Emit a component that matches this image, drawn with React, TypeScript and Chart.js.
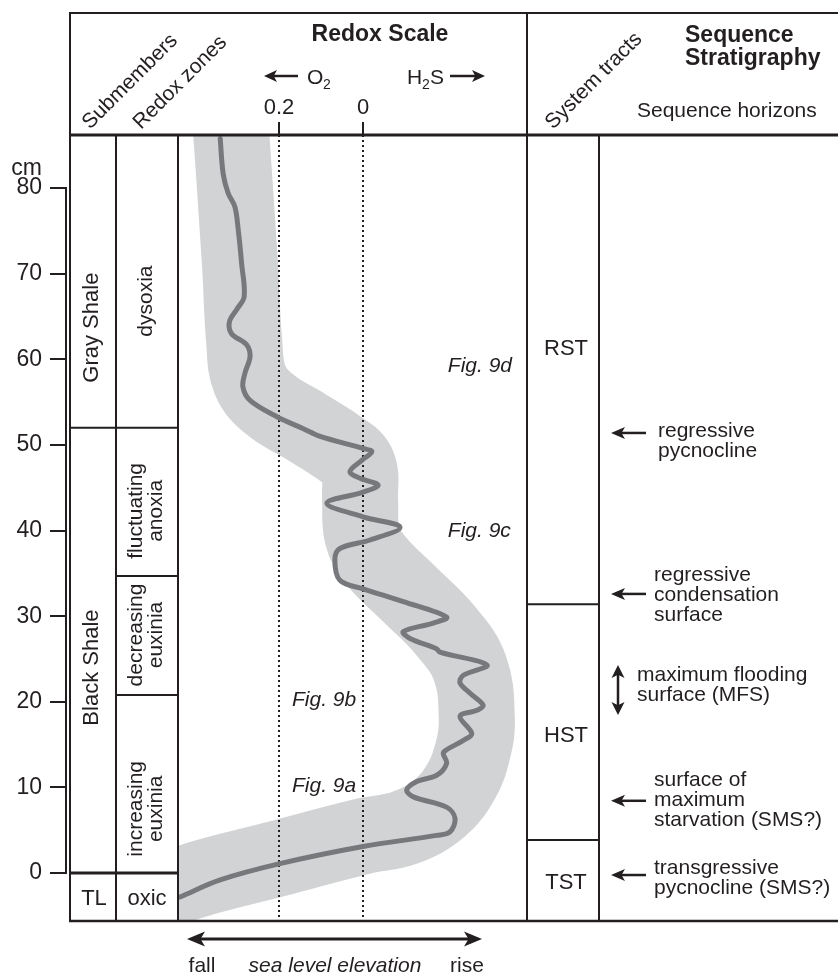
import React, { useEffect, useRef } from 'react';
import { Chart, registerables } from 'chart.js';

Chart.register(...registerables);

const INK = '#231f20';
const FONT = "'Liberation Sans', Arial, Helvetica, sans-serif";

// ---- data ----
const depthTicks = [0, 10, 20, 30, 40, 50, 60, 70, 80];
const redoxTicks = [0.2, 0];

// redox curve (redox value, depth in cm)
const curveRedox = [0.340, 0.333, 0.321, 0.305, 0.297, 0.289, 0.283, 0.301, 0.318, 0.313, 0.277, 0.269, 0.281, 0.286, 0.269, 0.205, 0.142, 0.102, 0.000, -0.021, 0.003, 0.031, 0.007, -0.036, 0.000, 0.086, 0.000, -0.088, -0.017, 0.055, 0.067, 0.055, 0.000, -0.096, -0.199, -0.167, -0.096, -0.112, -0.175, -0.183, -0.295, -0.239, -0.231, -0.255, -0.286, -0.271, -0.231, -0.259, -0.239, -0.199, -0.191, -0.199, -0.175, -0.128, -0.104, -0.120, -0.199, -0.219, -0.207, -0.175, 0.000, 0.198, 0.340, 0.436];
const curveDepth = [85.8, 81.7, 79.4, 77.8, 75.1, 71.2, 67.3, 65.8, 64.4, 63.0, 61.7, 60.3, 58.4, 56.8, 55.2, 53.3, 51.9, 51.0, 49.6, 49.2, 48.2, 46.9, 46.1, 45.3, 44.5, 43.2, 41.6, 40.4, 38.9, 37.9, 36.6, 34.2, 33.2, 31.7, 29.9, 29.2, 28.2, 27.4, 26.2, 25.8, 24.3, 23.1, 22.2, 21.0, 19.6, 19.0, 18.3, 16.3, 15.5, 14.4, 14.0, 12.8, 11.4, 10.7, 9.7, 8.9, 7.7, 6.4, 4.8, 4.4, 3.1, 1.1, -0.8, -2.8];

// shaded trend band (centre line)
const bandRedox = [0.316, 0.293, 0.283, 0.269, 0.221, 0.138, 0.055, 0.012, 0.007, 0.002, -0.029, -0.112, -0.195, -0.255, -0.271, -0.262, -0.236, -0.183, -0.100, 0.000, 0.198, 0.436, 0.520];
const bandDepth = [88.0, 71.2, 62.2, 57.6, 54.7, 52.2, 49.6, 47.6, 43.6, 39.5, 36.6, 32.5, 28.4, 23.9, 17.9, 14.4, 10.9, 7.6, 5.3, 4.3, 1.75, -1.4, -3.6];

// columns
const submemberLabels = ['Gray Shale', 'Black Shale'];
const submemberCenters = [63.7, 24.0];
const submemberBounds = [52, 0];
const redoxZoneLabels = [['dysoxia'], ['fluctuating', 'anoxia'], ['decreasing', 'euxinia'], ['increasing', 'euxinia']];
const redoxZoneCenters = [66.8, 42.3, 27.8, 7.5];
const redoxZoneBounds = [52, 34.7, 20.8, 0];
const basalLabels = ['TL', 'oxic'];
const basalBaseline = -3.74;

const tractLabels = ['RST', 'HST', 'TST'];
const tractBaselines = [60.55, 15.33, -1.87];
const tractBounds = [31.4, 3.85];

const horizonTexts = [
  ['regressive', 'pycnocline'],
  ['regressive', 'condensation', 'surface'],
  ['maximum flooding', 'surface (MFS)'],
  ['surface of', 'maximum', 'starvation (SMS?)'],
  ['transgressive', 'pycnocline (SMS?)'],
];
const horizonArrow = [51.4, 32.6, 21.4, 8.44, -0.23];
const horizonFirstLine = [51.6, 34.8, 23.1, 10.86, 0.58];
const horizonTextX = [658, 654, 637, 654, 654];
const mfsRange = [24.3, 18.45];

const figLabels = ['Fig. 9d', 'Fig. 9c', 'Fig. 9b', 'Fig. 9a'];
const figRedox = [-0.202, -0.202, 0.169, 0.169];
const figDepth = [58.5, 39.2, 19.5, 9.46];

function seg(ctx: CanvasRenderingContext2D, x1: number, y1: number, x2: number, y2: number, w = 2) {
  ctx.save();
  ctx.strokeStyle = INK;
  ctx.lineWidth = w;
  ctx.beginPath();
  ctx.moveTo(x1, y1);
  ctx.lineTo(x2, y2);
  ctx.stroke();
  ctx.restore();
}

function head(ctx: CanvasRenderingContext2D, tx: number, ty: number, dx: number, dy: number, len: number, half: number) {
  const bx = tx - dx * len;
  const by = ty - dy * len;
  const px = -dy, py = dx;
  ctx.save();
  ctx.fillStyle = INK;
  ctx.beginPath();
  ctx.moveTo(tx, ty);
  ctx.lineTo(bx + px * half, by + py * half);
  ctx.lineTo(bx + dx * len * 0.25, by + dy * len * 0.25);
  ctx.lineTo(bx - px * half, by - py * half);
  ctx.closePath();
  ctx.fill();
  ctx.restore();
}

function arrow(ctx: CanvasRenderingContext2D, x1: number, y1: number, x2: number, y2: number, both: boolean, len: number, half: number, w: number) {
  const L = Math.hypot(x2 - x1, y2 - y1);
  const dx = (x2 - x1) / L, dy = (y2 - y1) / L;
  const sx = both ? x1 + dx * len * 0.5 : x1;
  const sy = both ? y1 + dy * len * 0.5 : y1;
  seg(ctx, sx, sy, x2 - dx * len * 0.5, y2 - dy * len * 0.5, w);
  head(ctx, x2, y2, dx, dy, len, half);
  if (both) head(ctx, x1, y1, -dx, -dy, len, half);
}

function txt(ctx: CanvasRenderingContext2D, s: string, x: number, y: number, font: string, align: CanvasTextAlign = 'left', base: CanvasTextBaseline = 'alphabetic') {
  ctx.save();
  ctx.fillStyle = INK;
  ctx.font = font;
  ctx.textAlign = align;
  ctx.textBaseline = base;
  ctx.fillText(s, x, y);
  ctx.restore();
}

function rotTxt(ctx: CanvasRenderingContext2D, lines: string[], cx: number, cy: number, font: string, angle: number, align: CanvasTextAlign, lh: number) {
  ctx.save();
  ctx.fillStyle = INK;
  ctx.font = font;
  ctx.translate(cx, cy);
  ctx.rotate(angle);
  ctx.textAlign = align;
  ctx.textBaseline = align === 'center' ? 'middle' : 'alphabetic';
  const off = -((lines.length - 1) * lh) / 2;
  lines.forEach((l, i) => ctx.fillText(l, 0, align === 'center' ? off + i * lh : i * lh));
  ctx.restore();
}

const overlay = {
  id: 'overlay',
  afterDatasetDraw(chart: any, args: any) {
    if (args.index !== 0) return;
    const { ctx, scales, chartArea } = chart;
    ctx.save();
    ctx.strokeStyle = INK;
    ctx.lineWidth = 2;
    ctx.setLineDash([2, 3]);
    redoxTicks.forEach((v) => {
      const px = Math.round(scales.x.getPixelForValue(v));
      ctx.beginPath();
      ctx.moveTo(px, chartArea.top);
      ctx.lineTo(px, chartArea.bottom);
      ctx.stroke();
    });
    ctx.restore();
  },
  afterDraw(chart: any) {
    const { ctx, scales } = chart;
    const Y = (v: number) => scales.y.getPixelForValue(v);
    const X = (v: number) => scales.x.getPixelForValue(v);
    const f21 = `21px ${FONT}`;
    const f22 = `22px ${FONT}`;
    const b23 = `bold 23px ${FONT}`;
    const i21 = `italic 21px ${FONT}`;

    // frame
    seg(ctx, 69, 13, 838, 13, 2);
    seg(ctx, 69, 135, 838, 135, 3);
    seg(ctx, 70, 12, 70, 922, 2);
    seg(ctx, 69, 921, 838, 921, 2.5);
    seg(ctx, 116, 135, 116, 921, 2);
    seg(ctx, 178, 135, 178, 921, 2);
    seg(ctx, 527, 12, 527, 922, 2);
    seg(ctx, 599, 135, 599, 921, 2);

    // depth axis line
    seg(ctx, 66, Y(0) + 1, 66, Y(80) - 1, 2);
    txt(ctx, 'cm', 42, 175, `23px ${FONT}`, 'right');

    // column boundaries
    submemberBounds.forEach((b) => seg(ctx, 70, Y(b), 116, Y(b), b === 0 ? 3 : 2));
    redoxZoneBounds.forEach((b) => seg(ctx, 116, Y(b), 178, Y(b), b === 0 ? 3 : 2));
    tractBounds.forEach((b) => seg(ctx, 527, Y(b), 599, Y(b), 2));

    // column labels
    submemberLabels.forEach((l, i) => rotTxt(ctx, [l], 92, Y(submemberCenters[i]), f22, -Math.PI / 2, 'center', 20));
    redoxZoneLabels.forEach((l, i) => rotTxt(ctx, l, 146, Y(redoxZoneCenters[i]), f21, -Math.PI / 2, 'center', 20));
    txt(ctx, basalLabels[0], 94, Y(basalBaseline), f22, 'center');
    txt(ctx, basalLabels[1], 147, Y(basalBaseline), f22, 'center');
    tractLabels.forEach((l, i) => txt(ctx, l, 566, Y(tractBaselines[i]), f22, 'center'));

    // header
    rotTxt(ctx, ['Submembers'], 90, 130, f21, -Math.PI / 4, 'left', 20);
    rotTxt(ctx, ['Redox zones'], 141, 130, f21, -Math.PI / 4, 'left', 20);
    rotTxt(ctx, ['System tracts'], 553, 130, f21, -Math.PI / 4, 'left', 20);
    txt(ctx, 'Redox Scale', 380, 40.5, b23, 'center');
    txt(ctx, 'Sequence', 685, 41.5, b23, 'left');
    txt(ctx, 'Stratigraphy', 685, 65, b23, 'left');
    txt(ctx, 'Sequence horizons', 637, 117, f21, 'left');
    arrow(ctx, 298, 76, 264, 76, false, 13, 6, 2.5);
    txt(ctx, 'O', 307, 84, f21);
    txt(ctx, '2', 323, 89, `14px ${FONT}`);
    txt(ctx, 'H', 407, 84, f21);
    txt(ctx, '2', 422, 89, `14px ${FONT}`);
    txt(ctx, 'S', 430, 84, f21);
    arrow(ctx, 450, 76, 485, 76, false, 13, 6, 2.5);

    // fig labels
    figLabels.forEach((l, i) => txt(ctx, l, X(figRedox[i]), Y(figDepth[i]), i21, 'left'));

    // sequence horizons
    horizonTexts.forEach((lines, i) => {
      if (i === 2) {
        arrow(ctx, 618, Y(mfsRange[0]), 618, Y(mfsRange[1]), true, 13, 6.5, 2.5);
      } else {
        const ay = Y(horizonArrow[i]);
        arrow(ctx, 646, ay, 611, ay, false, 14, 6, 2.5);
      }
      const y0 = Y(horizonFirstLine[i]) + 5.5;
      lines.forEach((l, j) => txt(ctx, l, horizonTextX[i], y0 + j * 20.4, f21, 'left'));
    });

    // sea level arrow
    arrow(ctx, 187, 939, 482, 939, true, 18, 7.5, 3);
    txt(ctx, 'fall', 202, 972, f21, 'center');
    txt(ctx, 'sea level elevation', 335, 972, i21, 'center');
    txt(ctx, 'rise', 467, 972, f21, 'center');
  },
};

export default function App() {
  const ref = useRef<HTMLCanvasElement | null>(null);
  useEffect(() => {
    if (!ref.current) return;
    Chart.defaults.font.family = FONT;
    const clip = { left: -112, right: -311, top: 0, bottom: 0 };
    const chart = new Chart(ref.current, {
      type: 'scatter',
      data: {
        datasets: [
          {
            label: 'trend',
            data: bandRedox.map((v, i) => ({ x: v, y: bandDepth[i] })),
            showLine: true,
            borderColor: '#d1d3d4',
            borderWidth: 76,
            pointRadius: 0,
            tension: 0.4,
            borderCapStyle: 'butt',
            borderJoinStyle: 'round',
            clip,
            order: 2,
          } as any,
          {
            label: 'redox',
            data: curveRedox.map((v, i) => ({ x: v, y: curveDepth[i] })),
            showLine: true,
            borderColor: '#77787b',
            borderWidth: 5,
            pointRadius: 0,
            tension: 0.35,
            borderCapStyle: 'round',
            borderJoinStyle: 'round',
            clip,
            order: 1,
          } as any,
        ],
      },
      options: {
        responsive: false,
        animation: false,
        events: [],
        layout: { padding: { left: 0, top: 0, right: 0, bottom: 53 } },
        plugins: { legend: { display: false }, tooltip: { enabled: false } },
        scales: {
          x: {
            type: 'linear',
            position: 'top',
            reverse: true,
            min: -1.13095,
            max: 0.70714,
            afterFit: (s: any) => { s.height = 135; },
            afterBuildTicks: (s: any) => { s.ticks = redoxTicks.map((v) => ({ value: v })); },
            grid: { drawOnChartArea: false, drawTicks: true, tickLength: 13, color: INK, lineWidth: 2 },
            border: { display: false },
            ticks: {
              autoSkip: false,
              maxRotation: 0,
              padding: 1,
              color: INK,
              font: { size: 22 },
              callback: (v: any) => (v === 0 ? '0' : String(v)),
            },
          },
          y: {
            type: 'linear',
            position: 'left',
            min: -5.6,
            max: 86.2,
            afterFit: (s: any) => { s.width = 66; },
            afterBuildTicks: (s: any) => { s.ticks = depthTicks.map((v) => ({ value: v })); },
            grid: { drawOnChartArea: false, drawTicks: true, tickLength: 16, color: INK, lineWidth: 2 },
            border: { display: false },
            ticks: { autoSkip: false, padding: 8, color: INK, font: { size: 23 } },
          },
        },
      } as any,
      plugins: [overlay as any],
    });
    return () => chart.destroy();
  }, []);
  return (
    <div style={{ position: 'absolute', left: 0, top: 0, width: 838, height: 974, background: '#fff' }}>
      <canvas ref={ref} width={838} height={974} style={{ display: 'block' }} />
    </div>
  );
}
